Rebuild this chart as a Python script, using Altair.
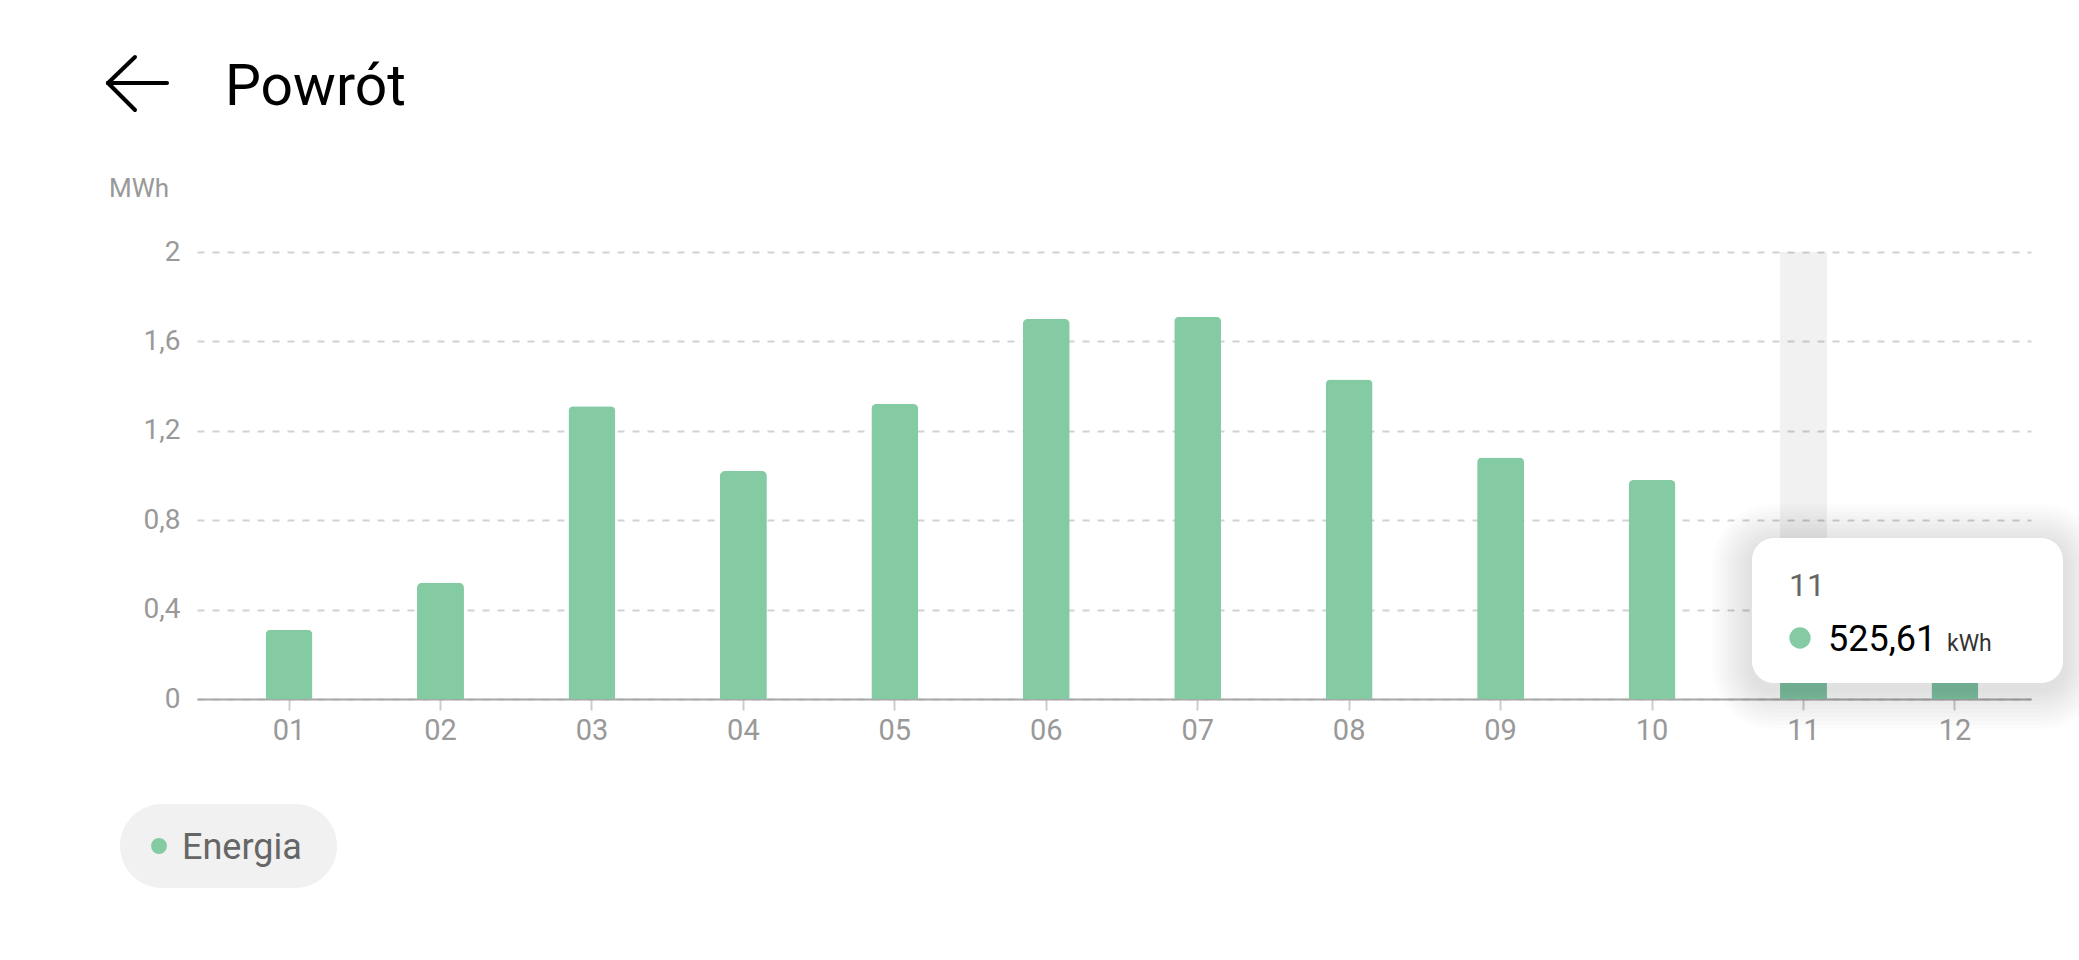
import altair as alt
import pandas as pd

# ---- data -------------------------------------------------------------
months = ["01", "02", "03", "04", "05", "06", "07", "08", "09", "10", "11", "12"]
energy_mwh = [0.31, 0.52, 1.31, 1.02, 1.32, 1.70, 1.71, 1.43, 1.08, 0.98, 0.52561, 0.30]
y_ticks = [0, 0.4, 0.8, 1.2, 1.6, 2]
y_max = 2

series_name = "Energia"
axis_unit = "MWh"
tip_unit = "kWh"
page_title = "Powrót"
selected_month = "11"

# ---- style ------------------------------------------------------------
GREEN = "#84CBA4"
FONT = "Roboto"
W, H = 1834, 447

bars_df = pd.DataFrame({"month": months, "energy": energy_mwh})
sel_idx = months.index(selected_month)
highlight_df = pd.DataFrame({"month": [selected_month], "top": [y_max]})
one = pd.DataFrame({"k": [0]})

tip_value = f"{energy_mwh[sel_idx] * 1000:.2f}".replace(".", ",")

# bands sit slightly right of centre inside the plot
x_scale = alt.Scale(domain=months, paddingInner=0.69, paddingOuter=0.4, align=0.566)
y_scale = alt.Scale(domain=[0, y_max], nice=False, zero=True)

x_axis = alt.Axis(
    title=None, labelAngle=0, labelFont=FONT, labelFontSize=29, labelColor="#999999",
    labelPadding=6, tickSize=11, tickColor="#cccccc", tickWidth=2, bandPosition=0.5,
    domainColor="#a8a8a8", domainWidth=2, grid=False,
)
y_axis = alt.Axis(
    title=None, values=y_ticks, labelFont=FONT, labelFontSize=28, labelColor="#999999",
    labelPadding=17, ticks=False, domain=False, grid=True, gridColor="#d2d2d2",
    gridDash=[7, 8], gridWidth=2,
    labelExpr="replace(toString(datum.value), '.', ',')",
)

x_enc = alt.X("month:O", scale=x_scale, axis=x_axis)

# hovered month band
highlight = alt.Chart(highlight_df).mark_bar(color="#000000", opacity=0.055).encode(
    x=x_enc, y=alt.Y("top:Q", scale=y_scale, axis=y_axis)
)

bars = alt.Chart(bars_df).mark_bar(
    color=GREEN, cornerRadiusTopLeft=5, cornerRadiusTopRight=5
).encode(x=x_enc, y=alt.Y("energy:Q", scale=y_scale, axis=y_axis))

layers = [highlight, bars]


def rect(x0, x1, y0, y1, color, radius=0, opacity=1.0):
    return alt.Chart(one).mark_rect(color=color, cornerRadius=radius, opacity=opacity).encode(
        x=alt.value(x0), x2=alt.value(x1), y=alt.value(y0), y2=alt.value(y1)
    )


def label(text, x, y, size, color, align="left"):
    return alt.Chart(one).mark_text(
        text=text, font=FONT, fontSize=size, color=color, align=align, baseline="alphabetic"
    ).encode(x=alt.value(x), y=alt.value(y))


def line(x0, y0, x1, y1):
    return alt.Chart(one).mark_rule(color="#000000", strokeWidth=4, strokeCap="round").encode(
        x=alt.value(x0), y=alt.value(y0), x2=alt.value(x1), y2=alt.value(y1)
    )


# header: back arrow and title
layers += [
    line(-89, -169, -30, -169),
    line(-89, -169, -62, -195),
    line(-89, -169, -62, -142),
    label(page_title, 28, -147, 57, "#000000"),
    label(axis_unit, -88, -55, 26, "#999999"),
]

# legend pill
layers += [
    rect(-77, 140, 552, 636, "#f1f1f1", radius=42),
    alt.Chart(one).mark_point(filled=True, color=GREEN, size=254, opacity=1).encode(
        x=alt.value(-38), y=alt.value(594)
    ),
    label(series_name, -15, 607, 36, "#666666"),
]

# tooltip card with soft shadow
tx0, tx1, ty0, ty1 = 1555, 1866, 286, 431
for s in range(40, 0, -4):
    layers.append(rect(tx0 - s, tx1 + s, ty0 - s + 6, ty1 + s + 6, "#000000", radius=22 + s, opacity=0.01))
layers += [
    rect(tx0, tx1, ty0, ty1, "#ffffff", radius=22),
    label(months[sel_idx], 1592, 344, 32, "#666666"),
    alt.Chart(one).mark_point(filled=True, color=GREEN, size=452, opacity=1).encode(
        x=alt.value(1603), y=alt.value(386)
    ),
    label(tip_value, 1631, 399, 36, "#000000"),
    label(tip_unit, 1750, 399, 23, "#333333"),
]

chart = alt.layer(*layers).properties(
    width=W, height=H,
    autosize=alt.AutoSizeParams(type="none"),
    padding={"left": 197, "top": 252, "right": 48, "bottom": 261},
    background="#ffffff",
).configure_view(stroke=None)

chart.save("out.html", embed_options={"renderer": "svg", "actions": False})
